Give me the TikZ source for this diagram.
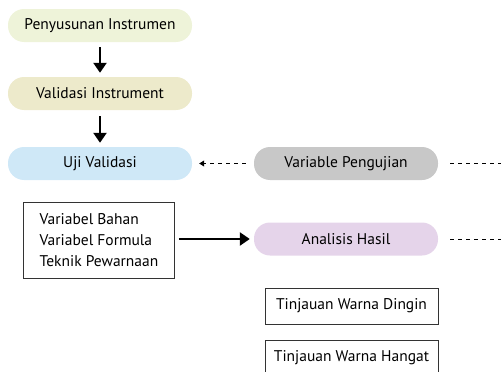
\documentclass[tikz,border=0pt]{standalone}
\usepackage{fontspec}
\setmainfont{PT Sans}
\usetikzlibrary{arrows.meta,positioning}

\definecolor{pillgreen}{HTML}{EEF3D9}
\definecolor{pillbeige}{HTML}{EDEACB}
\definecolor{pillblue}{HTML}{CFE8F7}
\definecolor{pillgray}{HTML}{C8C8C8}
\definecolor{pillviolet}{HTML}{E5D4EA}

\tikzset{
    pill/.style={rounded corners=16pt, minimum width=184pt, minimum height=33pt,
        inner sep=0pt, font=\fontsize{15.5}{18}\selectfont},
    listbox/.style={draw=black!80, line width=1pt, align=left, inner xsep=16pt, inner ysep=0pt,
        font=\fontsize{15.5}{21}\selectfont},
    reviewbox/.style={draw=black!80, line width=1pt, minimum width=173pt, minimum height=36pt,
        inner sep=0pt, font=\fontsize{15.5}{18}\selectfont},
    flowarrow/.style={line width=2.4pt, -{Triangle[length=10pt,width=13pt]}},
    linkarrow/.style={line width=0.9pt, dash pattern=on 4pt off 4pt, -{Triangle[length=5pt,width=6pt]}},
}

\begin{document}
\begin{tikzpicture}[x=1pt,y=-1pt]
    \clip (0,0) rectangle (501,372);
    \useasboundingbox (0,0) rectangle (501,372);

    % Left column
    \node[pill, fill=pillgreen] (susun) at (100,25.5) {Penyusunan Instrumen};
    \node[pill, fill=pillbeige] (valinst) at (100,93.5) {Validasi Instrument};
    \node[pill, fill=pillblue] (uji) at (100,163.5) {Uji Validasi};

    % Right column
    \node[pill, fill=pillgray] (varuji) at (346,163.5) {Variable Pengujian};
    \node[pill, fill=pillviolet] (analisis) at (346,239) {Analisis Hasil};

    % Variables box
    \node[listbox, minimum height=76pt] (var) at (99,240)
        {Variabel Bahan\\Variabel Formula\\Teknik Pewarnaan};

    % Review boxes
    \node[reviewbox] (dingin) at (351.5,306) {Tinjauan Warna Dingin};
    \node[reviewbox, below=15pt of dingin] (hangat) {Tinjauan Warna Hangat};

    % Flow arrows
    \draw[flowarrow] ([yshift=-5pt]susun.south) -- ([yshift=4pt]valinst.north);
    \draw[flowarrow] ([yshift=-6pt]valinst.south) -- ([yshift=4pt]uji.north);
    \draw[flowarrow] ([xshift=4pt]var.east |- analisis.west) -- ([xshift=-4pt]analisis.west);

    % Dashed links
    \coordinate (edgeA) at (503,163.5);
    \coordinate (edgeB) at (503,239);
    \draw[linkarrow] ([xshift=-8pt]varuji.west) -- ([xshift=7pt]uji.east);
    \draw[line width=0.9pt, dash pattern=on 4pt off 4pt] ([xshift=12pt]varuji.east) -- (edgeA);
    \draw[line width=0.9pt, dash pattern=on 4pt off 4pt] ([xshift=12pt]analisis.east) -- (edgeB);
\end{tikzpicture}
\end{document}
